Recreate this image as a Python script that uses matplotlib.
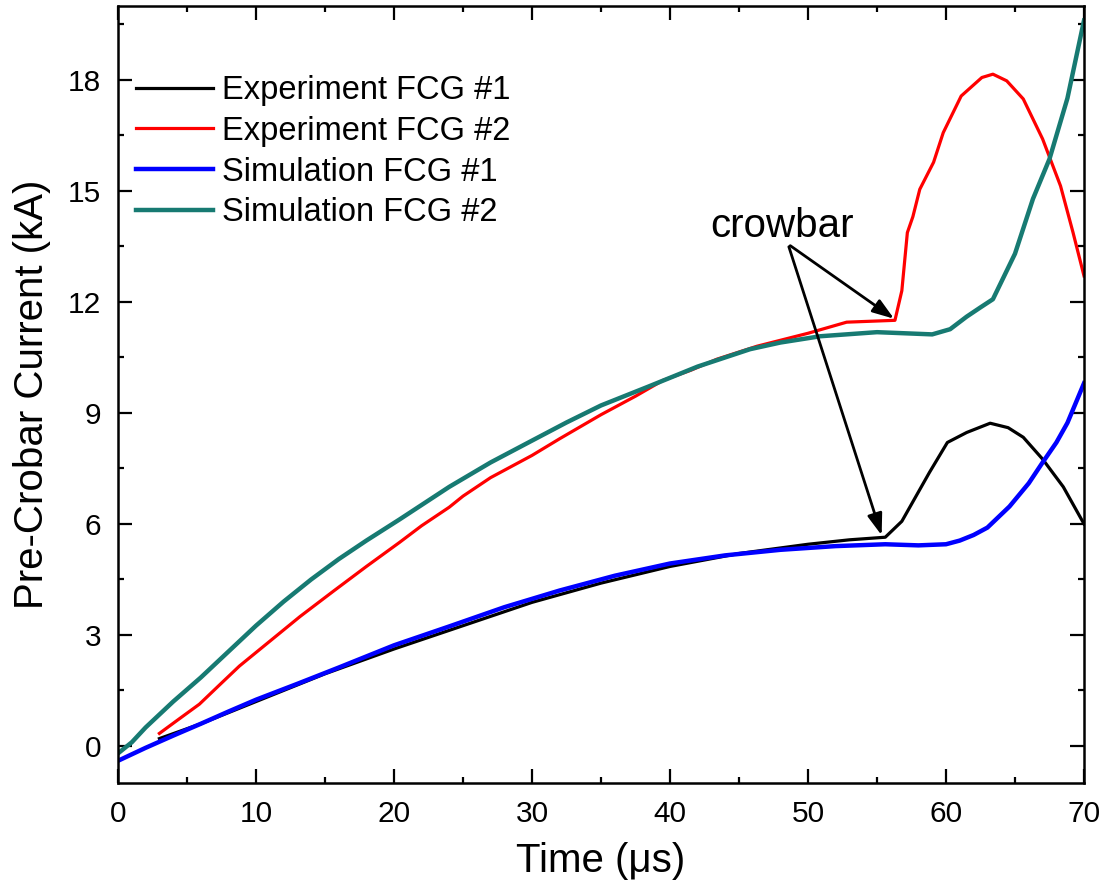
import numpy as np
import matplotlib
matplotlib.use('Agg')
import matplotlib.pyplot as plt
from matplotlib.ticker import MultipleLocator

plt.rcParams['font.family'] = ['Liberation Sans', 'DejaVu Sans']

# Experiment FCG #1 (black)
exp1_t = [3, 6, 10, 15, 20, 25, 30, 35, 40, 45, 50, 53, 55.6, 56.8, 58.8, 60.1, 61.5, 63.2, 64.5, 65.6, 67, 68.5, 70]
exp1_i = [0.2, 0.6, 1.2, 1.95, 2.62, 3.25, 3.88, 4.4, 4.85, 5.2, 5.45, 5.57, 5.64, 6.07, 7.39, 8.2, 8.47, 8.72, 8.6, 8.34, 7.75, 7.0, 6.0]

# Experiment FCG #2 (red)
exp2_t = [3, 4.5, 5.9, 7.5, 8.8, 11, 13.2, 15.6, 18, 20.4, 22, 24, 25, 27, 30, 32, 35, 37.5, 39.5, 41.5, 43.4, 46.3, 50, 52.8,
          56.3, 56.8, 57.2, 57.6, 58.1, 59.1, 59.8, 61.1, 62.6, 63.4, 64.4, 65.6, 67, 68.3, 69.2, 70]
exp2_i = [0.34, 0.75, 1.13, 1.7, 2.16, 2.83, 3.5, 4.18, 4.85, 5.5, 5.95, 6.45, 6.75, 7.25, 7.85, 8.3, 8.95, 9.45, 9.88, 10.15, 10.45, 10.8, 11.15, 11.45,
          11.5, 12.3, 13.87, 14.3, 15.04, 15.77, 16.57, 17.56, 18.06, 18.15, 17.97, 17.48, 16.4, 15.13, 13.88, 12.7]

# Simulation FCG #1 (blue)
sim1_t = [0, 2, 4, 6, 8, 10, 13, 16, 20, 24, 28, 32, 36, 40, 44, 48, 52, 55.6, 58, 60, 61, 62, 63, 64.6, 66, 67, 68, 68.8, 70]
sim1_i = [-0.4, -0.05, 0.28, 0.6, 0.93, 1.25, 1.68, 2.12, 2.72, 3.23, 3.75, 4.2, 4.6, 4.93, 5.15, 5.3, 5.4, 5.45, 5.42, 5.45, 5.55, 5.7, 5.9, 6.47, 7.1, 7.66, 8.2, 8.73, 9.8]

# Simulation FCG #2 (teal)
sim2_t = [0, 1, 2, 4, 6, 8, 10, 12, 14, 16, 18, 20.4, 24, 27, 30, 32.5, 35, 38.5, 42, 45.8, 48, 50.9, 55, 57, 59, 60.3, 61.5, 62.5,
          63.4, 65, 66.3, 67.5, 68.8, 70]
sim2_i = [-0.2, 0.1, 0.5, 1.2, 1.85, 2.55, 3.25, 3.9, 4.5, 5.05, 5.55, 6.12, 7.0, 7.66, 8.25, 8.74, 9.2, 9.72, 10.25, 10.72, 10.9, 11.07, 11.18, 11.15, 11.12, 11.26, 11.6, 11.85,
          12.07, 13.3, 14.78, 15.86, 17.5, 19.6]

fig = plt.figure(figsize=(11.07, 8.86), dpi=100)
ax = fig.add_axes([118 / 1107, 1 - 783 / 886, 966 / 1107, 777.3 / 886])

ax.plot(exp1_t, exp1_i, color='black', lw=2.3, label='Experiment FCG #1')
ax.plot(exp2_t, exp2_i, color='#ff0000', lw=2.3, label='Experiment FCG #2')
ax.plot(sim1_t, sim1_i, color='#0000ff', lw=3.2, label='Simulation FCG #1')
ax.plot(sim2_t, sim2_i, color='#177a72', lw=3.2, label='Simulation FCG #2')

ax.set_xlim(0, 70)
ax.set_ylim(-1, 20)
ax.xaxis.set_major_locator(MultipleLocator(10))
ax.xaxis.set_minor_locator(MultipleLocator(5))
ax.yaxis.set_major_locator(MultipleLocator(3))
ax.yaxis.set_minor_locator(MultipleLocator(1.5))
ax.tick_params(which='both', direction='in', top=True, right=True, width=1.6)
ax.tick_params(which='major', length=10)
ax.tick_params(which='minor', length=4.5)
ax.tick_params(axis='x', labelsize=21.5, pad=12)
ax.tick_params(axis='y', labelsize=21.5, pad=12)
for s in ax.spines.values():
    s.set_linewidth(1.8)

ax.set_xlabel('Time (μs)', fontsize=29, labelpad=10)
ax.set_ylabel('Pre-Crobar Current (kA)', fontsize=29, labelpad=12)

ax.legend(loc='upper left', bbox_to_anchor=(136 / 1107, 1 - 75 / 886), bbox_transform=fig.transFigure,
          frameon=False, fontsize=23.5, handlelength=2.35, handletextpad=0.28, labelspacing=0.3,
          borderpad=0, borderaxespad=0)

ax.text(48.1, 14.05, 'crowbar', fontsize=29, ha='center', va='center')
arrow = dict(arrowstyle='-|>,head_length=1.3,head_width=0.45', color='black', lw=2)
ax.annotate('', xy=(56.4, 11.5), xytext=(48.55, 13.56), arrowprops=arrow)
ax.annotate('', xy=(55.4, 5.62), xytext=(48.55, 13.56), arrowprops=arrow)

fig.savefig('out.png', dpi=100)
